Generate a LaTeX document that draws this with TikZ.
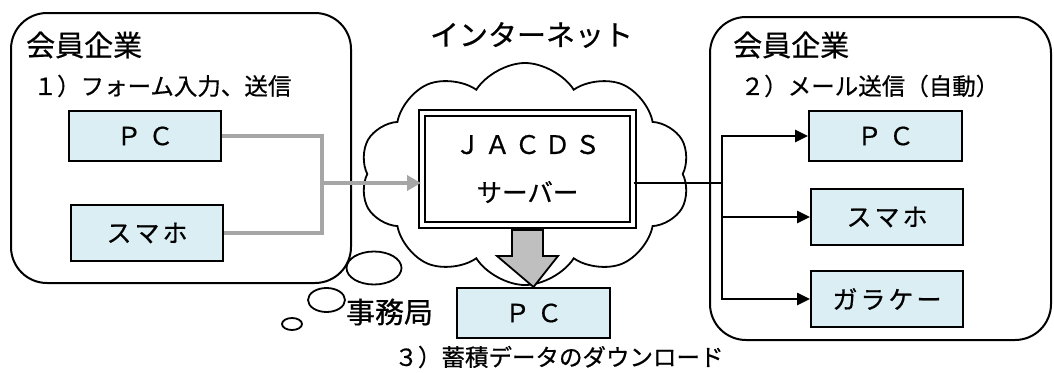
\documentclass[tikz,border=0pt]{standalone}
\usepackage{fontspec}
\setmainfont{Noto Sans CJK JP}[FakeBold=0.6]
\usetikzlibrary{shapes.symbols,arrows.meta}
\definecolor{boxblue}{HTML}{DAEEF3}
\definecolor{linegray}{HTML}{A6A6A6}
\definecolor{arrowgray}{HTML}{BFBFBF}
\newcommand{\tsp}{\hspace{3pt}}
\begin{document}
\begin{tikzpicture}[x=1pt,y=-1pt,
  group/.style={draw,line width=2pt,rounded corners=36pt},
  devbox/.style={draw,fill=boxblue,line width=2pt,inner sep=0pt,
    font=\fontsize{25}{27}\selectfont},
  title/.style={inner sep=0pt,font=\fontsize{29}{31}\selectfont},
  sublabel/.style={inner sep=0pt,font=\fontsize{23.5}{25}\selectfont},
  grayline/.style={draw=linegray,line width=4.5pt},
  blackline/.style={draw=black,line width=2.5pt},
  bubble/.style={draw,fill=white,line width=1.8pt}]
\useasboundingbox (0,0) rectangle (1054,372);

% groups
\draw[group] (11,13) rectangle (351,283);
\draw[group] (710,17) rectangle (1051,340);

% cloud
\node[cloud,draw,fill=white,line width=1.8pt,cloud puffs=10,cloud puff arc=115,
  aspect=1.5,minimum width=330pt,minimum height=222pt,inner sep=0pt] (cloud) at (525,174) {};

% titles
\node[title,anchor=west] (t1) at (26,45) {会員企業};
\node[title,anchor=west] (t2) at (733,45) {会員企業};
\node[title] (inet) at (531.5,35) {インターネット};
\node[sublabel] (s1) at (162.5,86) {１）フォーム入力、送信};
\node[sublabel] (s2) at (870,86) {２）メール送信（自動）};
\node[title] (jimu) at (389.5,312) {事務局};
\node[sublabel] (s3) at (559,357) {３）蓄積データのダウンロード};

% devices
\node[devbox,minimum width=152pt,minimum height=50pt] (lpc) at (145,136) {Ｐ\hspace{7pt}Ｃ};
\node[devbox,minimum width=152pt,minimum height=56pt] (lsp) at (147,233) {ス\tsp マ\tsp ホ};
\node[devbox,minimum width=153pt,minimum height=50pt] (rpc) at (885.5,136) {Ｐ\hspace{7pt}Ｃ};
\node[devbox,minimum width=152pt,minimum height=56pt] (rsp) at (887,217) {ス\tsp マ\tsp ホ};
\node[devbox,minimum width=152pt,minimum height=56pt] (rgk) at (887,299) {ガ\tsp ラ\tsp ケ\tsp ー};
\node[devbox,minimum width=153pt,minimum height=50pt] (bpc) at (533.5,313) {Ｐ\hspace{7pt}Ｃ};

% server
\node[draw,fill=white,double,line width=2pt,double distance=4pt,
  minimum width=211pt,minimum height=111.5pt,inner sep=0pt,align=center,
  font=\fontsize{25.5}{48}\selectfont] (srv) at (527.5,169)
  {Ｊ\hspace{4.5pt}Ａ\hspace{4.5pt}Ｃ\hspace{4.5pt}Ｄ\hspace{4.5pt}Ｓ\\サーバー};

% gray connectors (input)
\coordinate (gj) at (322,183);
\draw[grayline] (lpc.east) -| (gj);
\draw[grayline] (lsp.east) -| (gj);
\draw[grayline,-{Triangle[length=14pt,width=15pt]}] (gj) -- (gj -| srv.west);

% black connectors (mail)
\coordinate (bj) at (722,183);
\draw[blackline] (srv.east |- bj) -- (bj);
\draw[blackline,-{Triangle[length=13pt,width=12pt]}] (bj) |- (rpc.west);
\draw[blackline,-{Triangle[length=13pt,width=12pt]}] (bj) |- (rsp.west);
\draw[blackline,-{Triangle[length=13pt,width=12pt]}] (bj) |- (rgk.west);

% download block arrow
\draw[fill=arrowgray,line width=1.8pt,line join=miter]
  (512,230) -- (512,256) -- (497,256) -- (bpc.north) -- (558,256) -- (543,256) -- (543,230) -- cycle;

% thought bubbles
\draw[bubble] (374,268) ellipse (27.5 and 16.5);
\draw[bubble] (326.5,300) ellipse (18.5 and 12);
\draw[bubble] (292,324) ellipse (10 and 6);
\end{tikzpicture}
\end{document}
